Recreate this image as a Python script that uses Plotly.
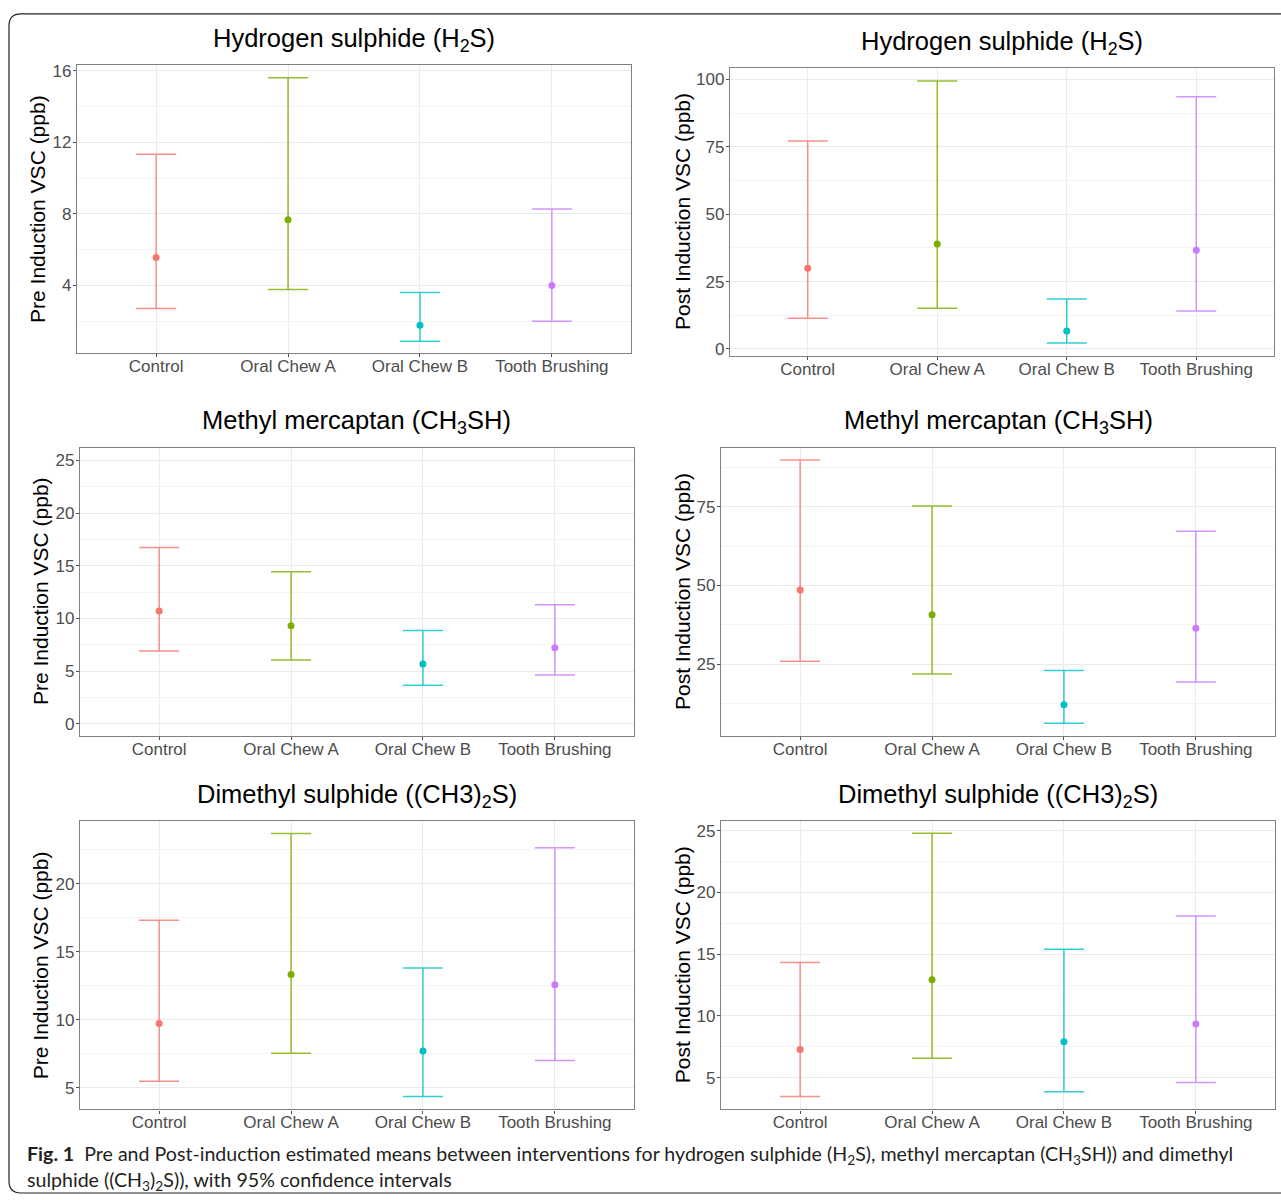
import plotly.graph_objects as go

# ---------------- data ----------------
categories = ["Control", "Oral Chew A", "Oral Chew B", "Tooth Brushing"]
colors = ["#F8766D", "#7CAE00", "#00BFC4", "#C77CFF"]
bar_colors = ["rgba(248,118,109,0.8)", "rgba(124,174,0,0.8)",
              "rgba(0,191,196,0.8)", "rgba(199,124,255,0.8)"]

h2s_pre_mean = [5.56, 7.67, 1.78, 4.00]
h2s_pre_lower = [2.72, 3.78, 0.89, 2.00]
h2s_pre_upper = [11.33, 15.60, 3.61, 8.28]

h2s_post_mean = [30.0, 39.0, 6.7, 36.6]
h2s_post_lower = [11.4, 15.1, 2.2, 14.1]
h2s_post_upper = [77.2, 99.5, 18.5, 93.6]

ch3sh_pre_mean = [10.69, 9.31, 5.66, 7.20]
ch3sh_pre_lower = [6.89, 6.04, 3.65, 4.62]
ch3sh_pre_upper = [16.73, 14.43, 8.84, 11.29]

ch3sh_post_mean = [48.6, 40.7, 12.2, 36.4]
ch3sh_post_lower = [26.0, 21.9, 6.3, 19.4]
ch3sh_post_upper = [89.8, 75.2, 23.0, 67.2]

dms_pre_mean = [9.71, 13.32, 7.70, 12.57]
dms_pre_lower = [5.46, 7.53, 4.34, 7.00]
dms_pre_upper = [17.32, 23.70, 13.80, 22.66]

dms_post_mean = [7.28, 12.93, 7.92, 9.35]
dms_post_lower = [3.47, 6.58, 3.87, 4.62]
dms_post_upper = [14.33, 24.80, 15.40, 18.10]

titles = ["Hydrogen sulphide (H<sub>2</sub>S)", "Hydrogen sulphide (H<sub>2</sub>S)",
          "Methyl mercaptan (CH<sub>3</sub>SH)", "Methyl mercaptan (CH<sub>3</sub>SH)",
          "Dimethyl sulphide ((CH3)<sub>2</sub>S)", "Dimethyl sulphide ((CH3)<sub>2</sub>S)"]
ytitles = ["Pre Induction VSC (ppb)", "Post Induction VSC (ppb)"] * 3

caption_line1 = ("<b>Fig. 1</b>  Pre and Post-induction estimated means between interventions for "
                 "hydrogen sulphide (H<sub>2</sub>S), methyl mercaptan (CH<sub>3</sub>SH)) and dimethyl")
caption_line2 = "sulphide ((CH<sub>3</sub>)<sub>2</sub>S)), with 95% confidence intervals"

panels_data = [
    (h2s_pre_mean, h2s_pre_lower, h2s_pre_upper),
    (h2s_post_mean, h2s_post_lower, h2s_post_upper),
    (ch3sh_pre_mean, ch3sh_pre_lower, ch3sh_pre_upper),
    (ch3sh_post_mean, ch3sh_post_lower, ch3sh_post_upper),
    (dms_pre_mean, dms_pre_lower, dms_pre_upper),
    (dms_post_mean, dms_post_lower, dms_post_upper),
]

# ---------------- layout geometry (pixels) ----------------
W, H = 1281, 1200
# plot areas: left, right, top, bottom
boxes = [(77, 631, 62, 352), (730, 1274, 65, 355),
         (80, 634, 447, 737), (721, 1275, 447, 737),
         (80, 634, 822, 1112), (721, 1275, 822, 1112)]
yranges = [(0.22, 16.33), (-2.7, 104.4), (-1.2, 26.2), (2.15, 93.7), (3.39, 24.63), (2.43, 25.8)]
ydticks = [4, 25, 5, 25, 5, 5]
title_pos = [(354, 37), (1002, 40), (357, 421), (998, 421), (357, 797), (998, 797)]
ytitle_pos = [(38, 207), (683, 210), (40, 591), (682, 592), (40, 967), (682, 967)]


def fx(px):
    return px / W


def fy(py):
    return 1 - py / H


fig = go.Figure()
layout = dict(
    width=W, height=H, margin=dict(l=0, r=0, t=0, b=0),
    paper_bgcolor="white", plot_bgcolor="white", showlegend=False,
    font=dict(family="Liberation Sans, Arial, sans-serif", color="#4d4d4d"),
)
annotations = []
grid = "#ebebeb"
minor_grid = "#f4f4f4"
border = "#7f7f7f"

for i, (means, lows, ups) in enumerate(panels_data):
    n = i + 1
    xa = "x" if n == 1 else f"x{n}"
    ya = "y" if n == 1 else f"y{n}"
    for j, cat in enumerate(categories):
        fig.add_trace(go.Scatter(
            x=[cat], y=[means[j]], mode="markers",
            marker=dict(color=colors[j], size=7),
            error_y=dict(type="data", symmetric=False,
                         array=[ups[j] - means[j]], arrayminus=[means[j] - lows[j]],
                         color=bar_colors[j], thickness=1.5, width=20),
            xaxis=xa, yaxis=ya, hoverinfo="skip"))
    l, r, t, b = boxes[i]
    layout[f"xaxis{n if n > 1 else ''}"] = dict(
        domain=[fx(l), fx(r)], anchor=ya, type="category",
        categoryorder="array", categoryarray=categories, range=[-0.6, 3.6],
        showgrid=True, gridcolor=grid, gridwidth=1,
        showline=True, linecolor=border, linewidth=1.3, mirror=True,
        ticks="outside", ticklen=3, tickcolor="#4d4d4d", ticklabelstandoff=-6,
        tickfont=dict(size=17, color="#4d4d4d"), zeroline=False, fixedrange=True)
    layout[f"yaxis{n if n > 1 else ''}"] = dict(
        domain=[fy(b), fy(t)], anchor=xa, range=list(yranges[i]),
        tick0=0, dtick=ydticks[i],
        showgrid=True, gridcolor=grid, gridwidth=1,
        minor=dict(dtick=ydticks[i] / 2, tick0=0, showgrid=True, gridcolor=minor_grid, gridwidth=1),
        showline=True, linecolor=border, linewidth=1.3, mirror=True,
        ticks="outside", ticklen=3, tickcolor="#4d4d4d", ticklabelstandoff=-2,
        tickfont=dict(size=17, color="#4d4d4d"), zeroline=False, fixedrange=True)
    tx, ty = title_pos[i]
    annotations.append(dict(text=titles[i], x=fx(tx), y=fy(ty), xref="paper", yref="paper",
                            xanchor="center", yanchor="middle", showarrow=False,
                            font=dict(size=25.5, color="black", family="Liberation Sans, Arial")))
    yx, yy = ytitle_pos[i]
    annotations.append(dict(text=ytitles[i], x=fx(yx), y=fy(yy), xref="paper", yref="paper",
                            xanchor="center", yanchor="middle", showarrow=False, textangle=-90,
                            font=dict(size=21, color="black", family="Liberation Sans, Arial")))

annotations.append(dict(text=caption_line1, x=fx(25), y=fy(1158), xref="paper", yref="paper",
                        xanchor="left", yanchor="middle", showarrow=False,
                        font=dict(size=19.6, color="#231f20", family="Lato, Open Sans, sans-serif")))
annotations.append(dict(text=caption_line2, x=fx(25), y=fy(1184), xref="paper", yref="paper",
                        xanchor="left", yanchor="middle", showarrow=False,
                        font=dict(size=19.6, color="#231f20", family="Lato, Open Sans, sans-serif")))

layout["annotations"] = annotations

# outer rounded frame (open on the right side)
x0, y0, y1, rad = 9, 11, 1196, 12
path = (f"M {fx(1300)},{fy(y0)} L {fx(x0 + rad)},{fy(y0)} "
        f"Q {fx(x0)},{fy(y0)} {fx(x0)},{fy(y0 + rad)} "
        f"L {fx(x0)},{fy(y1 - rad)} Q {fx(x0)},{fy(y1)} {fx(x0 + rad)},{fy(y1)} "
        f"L {fx(1300)},{fy(y1)}")
layout["shapes"] = [dict(type="path", path=path, xref="paper", yref="paper",
                         line=dict(color="#222222", width=1.2), layer="above")]

fig.update_layout(**layout)
fig.write_html("out.html", config={"displayModeBar": False},
               post_script="document.body.style.margin='0';")
